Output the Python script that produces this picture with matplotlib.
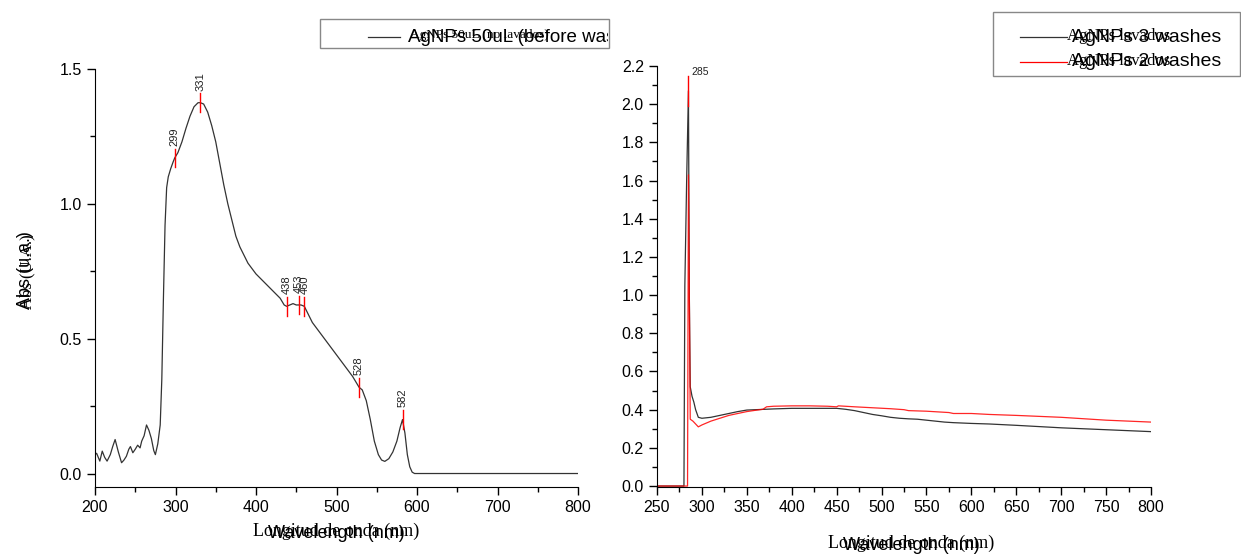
import matplotlib
matplotlib.use('Agg')
import matplotlib.pyplot as plt
from matplotlib.patches import Rectangle
from matplotlib.transforms import Bbox, TransformedBbox
from matplotlib.ticker import MultipleLocator

plt.rcParams['font.family'] = ['Liberation Sans', 'DejaVu Sans']

# left spectrum: AgNPs 50uL before washes
wl_left = [200, 202, 206, 209, 212, 215, 219, 222, 225, 229, 233, 236, 239, 242, 244,
           247, 250, 253, 256, 258, 261, 264, 267, 270, 273, 275, 278, 281, 283, 285,
           287, 289, 291, 294, 297, 299, 303, 308, 313, 318, 323, 328, 331, 335, 340,
           345, 350, 355, 360, 365, 370, 375, 380, 390, 400, 410, 420, 430, 435, 438,
           442, 446, 450, 453, 456, 460, 465, 470, 480, 490, 500, 510, 520, 525, 528,
           532, 537, 542, 547, 552, 556, 560, 565, 570, 575, 579, 582, 585, 588, 591,
           594, 597, 600, 650, 700, 750, 800]
abs_left = [0.07, 0.075, 0.046, 0.083, 0.06, 0.046, 0.07, 0.10, 0.126, 0.08, 0.04, 0.05,
            0.064, 0.09, 0.10, 0.077, 0.09, 0.105, 0.095, 0.12, 0.14, 0.18, 0.16, 0.13,
            0.085, 0.07, 0.11, 0.18, 0.35, 0.65, 0.92, 1.06, 1.10, 1.13, 1.155, 1.17,
            1.19, 1.23, 1.28, 1.325, 1.36, 1.375, 1.375, 1.37, 1.34, 1.29, 1.23, 1.15,
            1.07, 1.00, 0.94, 0.88, 0.84, 0.78, 0.74, 0.71, 0.68, 0.65, 0.625, 0.62,
            0.625, 0.63, 0.625, 0.625, 0.625, 0.62, 0.59, 0.56, 0.52, 0.48, 0.44, 0.40,
            0.36, 0.335, 0.32, 0.31, 0.27, 0.20, 0.12, 0.07, 0.05, 0.045, 0.055, 0.08,
            0.12, 0.17, 0.20, 0.15, 0.07, 0.025, 0.005, 0.0, 0.0, 0.0, 0.0, 0.0, 0.0]
peaks_left = [299, 331, 438, 453, 460, 528, 582]
peaks_left_abs = [1.17, 1.375, 0.62, 0.625, 0.62, 0.32, 0.20]

# right spectra: washed samples
wl_3w = [250, 280, 281, 283, 285, 286, 287, 289, 291, 293, 296, 300, 310, 320, 330, 340,
         350, 360, 370, 380, 400, 420, 440, 450, 460, 470, 480, 490, 500, 510, 520, 530,
         540, 550, 560, 570, 580, 590, 600, 620, 650, 700, 750, 800]
abs_3w = [0, 0, 1.05, 1.6, 2.07, 1.0, 0.52, 0.47, 0.44, 0.40, 0.36, 0.355, 0.36, 0.37,
          0.38, 0.39, 0.398, 0.40, 0.402, 0.404, 0.407, 0.407, 0.407, 0.407, 0.402, 0.395,
          0.385, 0.375, 0.368, 0.36, 0.355, 0.352, 0.35, 0.345, 0.34, 0.335, 0.332, 0.33,
          0.328, 0.325, 0.318, 0.305, 0.295, 0.285]
wl_2w = [250, 284, 285, 287, 290, 296, 300, 310, 320, 330, 340, 350, 360, 368, 372, 380,
         400, 420, 440, 450, 452, 470, 490, 510, 525, 530, 550, 575, 580, 600, 620, 650,
         700, 750, 800]
abs_2w = [0, 0, 1.63, 0.35, 0.34, 0.31, 0.32, 0.34, 0.355, 0.37, 0.38, 0.39, 0.397, 0.402,
          0.415, 0.418, 0.42, 0.42, 0.418, 0.415, 0.42, 0.415, 0.41, 0.405, 0.40, 0.395,
          0.392, 0.385, 0.38, 0.38, 0.375, 0.37, 0.36, 0.345, 0.335]
peak_right = 285
peak_right_abs = 2.07

W, H = 1241, 555
fig = plt.figure(figsize=(W / 100, H / 100), dpi=100)


def fx(px):
    return px / W


def fy(py):
    return 1 - py / H


def style_axes(ax):
    for s in ['top', 'right']:
        ax.spines[s].set_visible(False)
    ax.tick_params(which='major', direction='out', length=6, width=1, labelsize=11.5)
    ax.tick_params(which='minor', direction='out', length=3.5, width=1)


# left plot
ax1 = fig.add_axes([fx(95), fy(487), fx(578) - fx(95), fy(69) - fy(487)])
ax1.plot(wl_left, abs_left, color='#333333', lw=0.9)
for w, a in zip(peaks_left, peaks_left_abs):
    ax1.plot([w, w], [a - 0.035, a + 0.035], color='red', lw=1)
    ax1.text(w, a + 0.045, str(w), rotation=90, ha='center', va='bottom', fontsize=8,
             color='#222222')
ax1.set_xlim(200, 800)
ax1.set_ylim(-0.05, 1.5)
ax1.xaxis.set_major_locator(MultipleLocator(100))
ax1.xaxis.set_minor_locator(MultipleLocator(50))
ax1.yaxis.set_major_locator(MultipleLocator(0.5))
ax1.yaxis.set_minor_locator(MultipleLocator(0.25))
style_axes(ax1)

# right plot
ax2 = fig.add_axes([fx(657), fy(487), fx(1151) - fx(657), fy(66) - fy(487)])
ax2.plot(wl_3w, abs_3w, color='#333333', lw=0.9)
ax2.plot(wl_2w, abs_2w, color='red', lw=0.9, alpha=0.85)
ax2.plot([peak_right, peak_right], [peak_right_abs - 0.08, peak_right_abs + 0.08],
         color='red', lw=1)
ax2.text(peak_right + 3, peak_right_abs + 0.1, str(peak_right), ha='left', va='center',
         fontsize=7.5, color='#222222')
ax2.set_xlim(250, 800)
ax2.set_ylim(-0.005, 2.2)
ax2.xaxis.set_major_locator(MultipleLocator(50))
ax2.xaxis.set_minor_locator(MultipleLocator(25))
ax2.yaxis.set_major_locator(MultipleLocator(0.2))
ax2.yaxis.set_minor_locator(MultipleLocator(0.1))
style_axes(ax2)

# axis labels (original Spanish text with English overlay)
fig.text(fx(336), fy(531), 'Longitud de onda (nm)', family='Liberation Serif',
         fontsize=13, ha='center', va='center')
fig.text(fx(336), fy(533), 'Wavelength (nm)', fontsize=13, ha='center', va='center')
fig.text(fx(911), fy(543), 'Longitud de onda (nm)', family='Liberation Serif',
         fontsize=13, ha='center', va='center')
fig.text(fx(911), fy(545), 'Wavelength (nm)', fontsize=13, ha='center', va='center')
fig.text(fx(27), fy(272), 'Abs (U.A.)', family='Liberation Serif', fontsize=12,
         rotation=90, ha='center', va='center')
fig.text(fx(25), fy(270), 'Abs (u.a.)', fontsize=13, rotation=90, ha='center',
         va='center')

# left legend box
box1 = Rectangle((fx(320), fy(48)), fx(609) - fx(320), fy(19) - fy(48),
                 transform=fig.transFigure, fill=False, edgecolor='#888888', lw=1)
fig.add_artist(box1)
fig.add_artist(plt.Line2D([fx(368), fx(400)], [fy(37), fy(37)],
                          transform=fig.transFigure, color='#333333', lw=0.9))
clip1 = TransformedBbox(Bbox([[fx(320), fy(48)], [fx(608), fy(19)]]), fig.transFigure)
t = fig.text(fx(410), fy(35), 'AgNPs 50uL (no lavados)', family='Liberation Serif',
             fontsize=9.5, ha='left', va='center')
t.set_clip_box(clip1)
t.set_clip_on(True)
t = fig.text(fx(408), fy(37), 'AgNPs 50uL (before washes)', fontsize=13.5, ha='left',
             va='center')
t.set_clip_box(clip1)
t.set_clip_on(True)

# right legend box
box2 = Rectangle((fx(993), fy(76)), fx(1240) - fx(993), fy(12) - fy(76),
                 transform=fig.transFigure, fill=False, edgecolor='#888888', lw=1)
fig.add_artist(box2)
for yy, col, lab in [(37, '#333333', 'AgNPs 3 washes'), (62, 'red', 'AgNPs 2 washes')]:
    fig.add_artist(plt.Line2D([fx(1020), fx(1067)], [fy(yy), fy(yy)],
                              transform=fig.transFigure, color=col, lw=0.9))
    fig.text(fx(1067), fy(yy - 1), 'AgNPs lavados', family='Liberation Serif',
             fontsize=12, ha='left', va='center')
    fig.text(fx(1072), fy(yy), lab, fontsize=14, ha='left', va='center')

fig.savefig('out.png', dpi=100)
